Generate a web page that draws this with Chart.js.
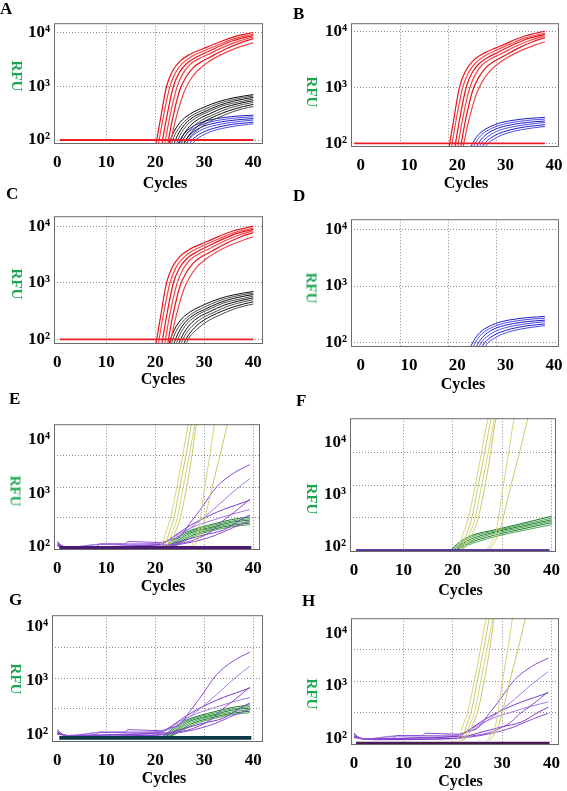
<!DOCTYPE html>
<html>
<head>
<meta charset="utf-8">
<script src="https://cdn.jsdelivr.net/npm/chart.js@4.4.1/dist/chart.umd.min.js"></script>
<style>
    body { margin: 0; background: #fff; }
    #page { position: relative; width: 567px; height: 791px; overflow: hidden; background: #fff;
            font-family: 'Liberation Serif', 'Times New Roman', serif; font-weight: bold; color: #000; }
    canvas { position: absolute; }
    .letter { position: absolute; font-size: 17px; line-height: 17px; }
    .cycles { position: absolute; font-size: 16px; line-height: 16px; transform: translateX(-50%); }
    .rfu { position: absolute; font-size: 15px; line-height: 15px; color: #1aa550;
           transform: translate(-50%, -50%) rotate(90deg); }
</style>
</head>
<body>
<div id="page"></div>
<script>
// ---- values (cycle, RFU) ----
const xTicks = [0, 10, 20, 30, 40];
const yTicks = [100, 1000, 10000];
const yTickText = ['10²', '10³', '10⁴'];

const thresholdRFU = 100;
const thresholdSpan = [0.5, 40];

const redCurves = [
    [[20.1, 80], [21, 230], [22.3, 1000], [23.5, 1900], [25, 2900], [27, 3900], [30, 5100], [33, 6600], [36, 8300], [40, 10000]],
    [[20.6, 80], [21.5, 230], [23, 1000], [24.2, 1850], [25.7, 2750], [27.7, 3700], [30, 4600], [33, 6000], [36, 7600], [40, 9300]],
    [[21.3, 80], [22.2, 230], [23.7, 1000], [24.9, 1800], [26.4, 2650], [28.4, 3500], [30, 4100], [33, 5500], [36, 7100], [40, 8800]],
    [[21.9, 80], [22.8, 230], [24.4, 950], [25.6, 1700], [27, 2500], [29, 3300], [31, 4000], [34, 5400], [37, 6900], [40, 8300]],
    [[22.5, 80], [23.4, 220], [25, 850], [26.3, 1500], [27.7, 2200], [29.5, 2900], [31.5, 3600], [34.5, 5000], [37.5, 6500], [40, 7700]],
    [[23, 80], [24, 210], [25.8, 750], [27, 1250], [28.5, 1900], [30, 2500], [32, 3300], [35, 4500], [38, 5700], [40, 6500]]
];

const blackCurves = [
    [[22.7, 80], [23.5, 125], [25, 210], [27, 300], [30, 410], [33, 520], [36, 610], [40, 700]],
    [[23.2, 80], [24, 125], [25.5, 200], [27.5, 285], [30, 370], [33, 480], [36, 570], [40, 660]],
    [[23.7, 80], [24.5, 120], [26, 195], [28, 275], [30, 335], [33, 440], [36, 530], [40, 620]],
    [[24.2, 80], [25, 120], [26.5, 190], [28.5, 265], [31, 340], [34, 440], [37, 510], [40, 580]],
    [[24.7, 80], [25.5, 115], [27, 180], [29, 250], [31, 305], [34, 400], [37, 475], [40, 540]],
    [[25.2, 80], [26, 115], [27.5, 170], [29.5, 235], [32, 300], [35, 390], [38, 460], [40, 500]],
    [[25.7, 80], [26.5, 110], [28, 160], [30, 220], [32.5, 285], [35, 350], [38, 420], [40, 460]],
    [[26.2, 80], [27, 110], [28.5, 150], [30.5, 205], [33, 265], [36, 340], [38, 385], [40, 420]]
];

const blueCurves = [
    [[24.5, 80], [25.3, 110], [26.5, 150], [28.5, 195], [31, 235], [34, 262], [37, 280], [40, 290]],
    [[25, 80], [25.8, 108], [27, 145], [29, 185], [31.5, 220], [34.5, 245], [37.5, 262], [40, 270]],
    [[25.6, 80], [26.4, 105], [27.6, 138], [29.5, 175], [32, 205], [35, 228], [38, 243], [40, 250]],
    [[26.2, 80], [27, 105], [28.2, 132], [30, 163], [32.5, 190], [35.5, 212], [38, 226], [40, 235]],
    [[26.8, 80], [27.6, 102], [28.8, 125], [30.5, 150], [33, 175], [36, 197], [38.5, 208], [40, 215]],
    [[27.4, 80], [28.2, 100], [29.4, 118], [31, 140], [33.5, 163], [36.5, 183], [39, 195], [40, 200]]
];

const yellowCurves = [
    [[20.5, 90], [21.3, 110], [22.2, 190], [23, 314], [24.4, 1300], [25.5, 4500], [26.7, 19000], [27.3, 35000]],
    [[21.2, 90], [22, 110], [22.9, 190], [23.7, 314], [25, 1300], [26.2, 4800], [27.4, 20000], [28, 38000]],
    [[21.6, 90], [22.5, 110], [23.5, 190], [24.4, 314], [25.7, 1300], [26.9, 4800], [28.1, 20000], [28.7, 38000]],
    [[22, 90], [23, 110], [24.1, 190], [25, 314], [26.4, 1300], [27.4, 4500], [28.4, 20000], [29, 38000]],
    [[27, 90], [27.8, 120], [28.8, 205], [30.1, 1300], [31.2, 5500], [32.2, 23000], [32.7, 40000]],
    [[27.5, 90], [28.4, 120], [29.5, 205], [31.6, 1300], [33.3, 5500], [34.9, 23000], [35.5, 40000]]
];

const purpleCurves = [
    [[0, 126], [1.5, 98], [8, 101], [8.6, 113], [13.8, 112], [14.4, 125], [21, 120], [23, 135], [25, 155], [27, 270], [29.1, 480], [32.5, 1300], [35.9, 2330], [39.3, 3400]],
    [[0, 118], [2, 97], [8.8, 112], [14, 113], [21, 116], [23, 130], [25.5, 175], [28.4, 273], [32.5, 555], [35.9, 1060], [39.3, 1870]],
    [[0, 112], [2.5, 96], [9, 100], [21, 110], [23.5, 150], [26, 215], [28.4, 290], [31, 380], [33.9, 495], [36.5, 600], [39.3, 740]],
    [[0, 108], [3, 95], [14, 104], [21, 108], [25, 115], [28, 135], [31.8, 205], [33.5, 290], [35.2, 380], [37.3, 540], [39.3, 770]],
    [[0, 115], [1.8, 96], [8.6, 110], [14, 111], [21, 112], [22.5, 130], [25, 177], [28.5, 250], [31.8, 314], [35.5, 400], [39.3, 495]],
    [[0, 105], [3, 95], [20, 100], [22, 105], [25, 125], [29.8, 165], [33.9, 205], [37.3, 314], [39.3, 390]],
    [[0, 103], [4, 94], [20, 98], [23, 104], [28, 125], [32, 160], [36, 230], [39.3, 300]]
];

const greenCurvesEG = [
    [[21.5, 92], [23, 120], [25, 160], [27.1, 200], [31.8, 265], [35.5, 320], [39.3, 360]],
    [[21.8, 92], [23.3, 118], [25.3, 155], [27.1, 190], [31.8, 250], [35.5, 300], [39.3, 335]],
    [[22.1, 92], [23.6, 115], [25.6, 150], [27.1, 180], [31.8, 235], [35.5, 285], [39.3, 315]],
    [[22.4, 92], [23.9, 112], [25.9, 145], [27.4, 172], [31.8, 225], [35.5, 265], [39.3, 295]],
    [[22.7, 92], [24.2, 110], [26.2, 140], [27.7, 165], [31.8, 212], [35.5, 250], [39.3, 275]],
    [[23, 92], [24.5, 108], [26.5, 135], [28, 158], [31.8, 200], [35.5, 235], [39.3, 258]]
];

const greenCurvesF = [
    [[19.8, 90], [21, 115], [23.5, 160], [28.9, 215], [33.6, 275], [40, 385]],
    [[20.1, 90], [21.3, 112], [23.5, 150], [28.9, 205], [33.6, 260], [40, 355]],
    [[20.4, 90], [21.6, 110], [23.8, 142], [28.9, 195], [33.6, 245], [40, 330]],
    [[20.7, 90], [21.9, 108], [24.1, 135], [28.9, 185], [33.6, 230], [40, 310]],
    [[21, 90], [22.5, 108], [24.5, 130], [29, 172], [33.6, 215], [40, 290]],
    [[21.5, 90], [23, 106], [25, 125], [29, 160], [33.6, 200], [40, 265]]
];

const baselineRFU = { E: 96, F: 86, G: 88, H: 82 };
const baselineSpan = [0.4, 39.6];
const gridRFU = {
    E: [347, 1276, 5100], F: [361, 1540, 6530],
    G: [309, 1107, 4130], H: [308, 1197, 4960]
};

// ---- styling ----
const shades = {
    red: ['#e8141c', '#f2474a'],
    black: ['#0a0a0a', '#4a4a4a'],
    blue: ['#1c1cc6', '#4b4be2'],
    yellow: ['#d3d47a', '#c9ca68'],
    purple: ['#8d4bd6', '#a57ae2', '#7a3cc8'],
    green: ['#1d7a2a', '#46a854']
};
const baselineColor = { E: '#4b1a74', F: '#5a3d9b', G: '#0d3a47', H: '#4a1a52' };
const baselineWidth = { E: 3.5, F: 2, G: 3.8, H: 2.2 };

const serif = "'Liberation Serif', 'DejaVu Serif', serif";
const tickFont = { family: serif, size: 17, weight: 'bold' };
const PAD_T = 14, PAD_R = 14, XH = 34;

const panels = [
    { name: 'A', col: 0, L: 54, R: 263, T: 23, B: 144, x: [-0.67, 41.98], y: [84.3, 14900], shift: 0,
      sets: [['red', redCurves], ['black', blackCurves], ['blue', blueCurves]], threshold: true,
      letter: [0, 0], rfu: [16, 76], cycles: [165, 184.5] },
    { name: 'B', col: 285, L: 351, R: 559, T: 23, B: 147, x: [-0.15, 42.92], y: [86, 13900], shift: 9,
      sets: [['red', redCurves], ['blue', blueCurves]], threshold: true,
      letter: [293, 5], rfu: [311, 92], cycles: [466, 184.5] },
    { name: 'C', col: 0, L: 54, R: 263, T: 216, B: 344, x: [-0.67, 41.98], y: [82.6, 15000], shift: 0,
      sets: [['red', redCurves], ['black', blackCurves]], threshold: true,
      letter: [6, 185], rfu: [16, 284], cycles: [163, 381] },
    { name: 'D', col: 285, L: 351, R: 559, T: 219, B: 347, x: [-0.15, 42.92], y: [84, 15100], shift: 9,
      sets: [['blue', blueCurves]], threshold: false,
      letter: [293, 187], rfu: [311, 288], cycles: [463, 385.5] },
    { name: 'E', col: 0, L: 54, R: 260, T: 424, B: 550, x: [-0.67, 41.37], y: [86.9, 19300], shift: 0,
      sets: [['yellow', yellowCurves], ['purple', purpleCurves], ['green', greenCurvesEG]],
      letter: [9, 390], rfu: [15, 491], cycles: [163, 588] },
    { name: 'F', col: 285, L: 350, R: 556, T: 418, B: 552, x: [-0.81, 40.89], y: [79, 29900], shift: 0,
      sets: [['yellow', yellowCurves], ['green', greenCurvesF]],
      letter: [296, 392], rfu: [311, 499], cycles: [460.5, 591.5] },
    { name: 'G', col: 0, L: 52, R: 263, T: 615, B: 742, x: [-1.08, 41.98], y: [74, 16400], shift: 0,
      sets: [['purple', purpleCurves], ['green', greenCurvesEG]],
      letter: [9, 591], rfu: [15, 679], cycles: [164, 780] },
    { name: 'H', col: 285, L: 351, R: 559, T: 618, B: 745, x: [-0.61, 41.5], y: [74.5, 19600], shift: 0,
      sets: [['yellow', yellowCurves], ['purple', purpleCurves]],
      letter: [302, 592], rfu: [311, 694], cycles: [460.5, 783] }
];

const framePlugin = {
    id: 'frame',
    afterDatasetsDraw(chart) {
        const { ctx, chartArea: a } = chart;
        ctx.save();
        ctx.strokeStyle = '#6a6a6a';
        ctx.lineWidth = 1;
        ctx.strokeRect(a.left + 0.5, a.top + 0.5, a.right - a.left - 1, a.bottom - a.top - 1);
        ctx.restore();
    }
};

function curveSet(pts, color, width) {
    return {
        data: pts.map(p => ({ x: p[0], y: p[1] })),
        borderColor: color, borderWidth: width,
        pointRadius: 0, fill: false,
        cubicInterpolationMode: 'monotone', order: 1
    };
}

function flatSet(span, value, color, width) {
    return {
        data: [{ x: span[0], y: value }, { x: span[1], y: value }],
        borderColor: color, borderWidth: width,
        pointRadius: 0, fill: false, tension: 0, order: 0
    };
}

const page = document.getElementById('page');

function addText(cls, text, left, top) {
    const d = document.createElement('div');
    d.className = cls;
    d.textContent = text;
    d.style.left = left + 'px';
    d.style.top = top + 'px';
    page.appendChild(d);
}

panels.forEach(p => {
    const canvas = document.createElement('canvas');
    const w = p.R - p.col + PAD_R;
    const h = p.B - p.T + PAD_T + XH;
    canvas.width = w; canvas.height = h;
    canvas.style.left = p.col + 'px';
    canvas.style.top = (p.T - PAD_T) + 'px';
    canvas.style.width = w + 'px';
    canvas.style.height = h + 'px';
    page.appendChild(canvas);

    const datasets = [];
    p.sets.forEach(([kind, curves]) => {
        curves.forEach((c, i) => {
            const cols = shades[kind];
            datasets.push(curveSet(c, cols[i % cols.length], kind === 'red' ? 1.2 : 1));
        });
    });
    if (p.threshold) datasets.push(flatSet(thresholdSpan, thresholdRFU, '#ee1c24', 1.8));
    if (baselineRFU[p.name]) {
        datasets.push(flatSet(baselineSpan, baselineRFU[p.name], baselineColor[p.name], baselineWidth[p.name]));
    }

    const yGrid = gridRFU[p.name] || yTicks;
    const xGrid = gridRFU[p.name] ? [10, 20, 30, 40] : [10, 20, 30];
    const yTickVals = [...new Set([...yTicks, ...yGrid])].sort((a, b) => a - b);

    new Chart(canvas, {
        type: 'line',
        data: { datasets },
        options: {
            responsive: false,
            devicePixelRatio: 1,
            animation: false,
            events: [],
            layout: { padding: { top: PAD_T, right: PAD_R, left: 0, bottom: 0 } },
            plugins: { legend: { display: false }, tooltip: { enabled: false } },
            scales: {
                x: {
                    type: 'linear',
                    min: p.x[0], max: p.x[1],
                    afterBuildTicks: s => { s.ticks = xTicks.map(v => ({ value: v })); },
                    afterFit: s => { s.height = XH; },
                    ticks: { font: tickFont, color: '#000', padding: 8, labelOffset: p.shift,
                             maxRotation: 0, autoSkip: false },
                    grid: { drawTicks: false, lineWidth: 1,
                            color: c => (c.tick && xGrid.includes(c.tick.value)) ? '#8a8a8a' : 'rgba(0,0,0,0)' },
                    border: { display: false, dash: [1, 2] }
                },
                y: {
                    type: 'logarithmic',
                    min: p.y[0], max: p.y[1],
                    afterBuildTicks: s => { s.ticks = yTickVals.map(v => ({ value: v })); },
                    afterFit: s => { s.width = p.L - p.col; },
                    ticks: { font: tickFont, color: '#000', padding: 4, autoSkip: false,
                             callback: v => { const k = yTicks.indexOf(v); return k >= 0 ? yTickText[k] : ''; } },
                    grid: { drawTicks: false, lineWidth: 1,
                            color: c => (c.tick && yGrid.includes(c.tick.value)) ? '#8a8a8a' : 'rgba(0,0,0,0)' },
                    border: { display: false, dash: [1, 2] }
                }
            }
        },
        plugins: [framePlugin]
    });

    addText('letter', p.name, p.letter[0], p.letter[1]);
    addText('cycles', 'Cycles', p.cycles[0], p.cycles[1] - 10);
    const r = document.createElement('div');
    r.className = 'rfu';
    r.textContent = 'RFU';
    r.style.left = p.rfu[0] + 'px';
    r.style.top = p.rfu[1] + 'px';
    page.appendChild(r);
});
</script>
</body>
</html>
